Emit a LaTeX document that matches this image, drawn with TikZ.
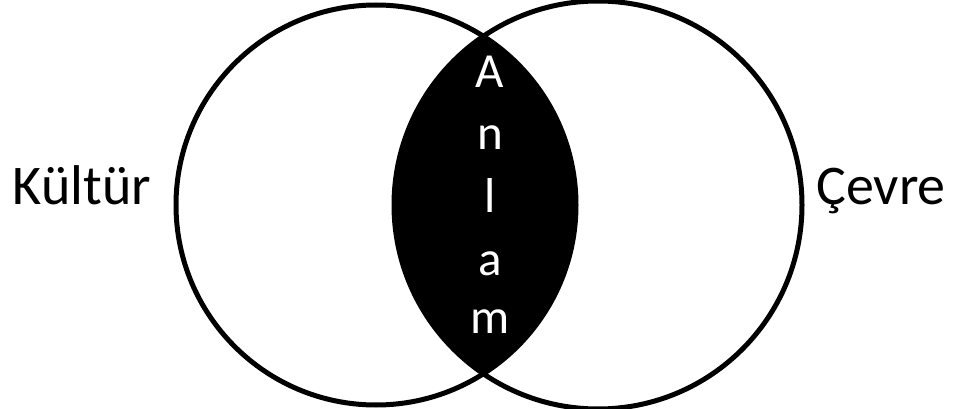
\documentclass[tikz,border=0pt]{standalone}
\usepackage{fontspec}
\setmainfont{Carlito}
\begin{document}
\begin{tikzpicture}[x=1pt,y=-1pt,
  ring/.style={draw=black,line width=5pt},
  side/.style={font=\fontsize{56}{60}\selectfont,anchor=base,inner sep=0pt},
  letter/.style={font=\fontsize{49}{52}\selectfont,text=white,anchor=base,inner sep=0pt}]
\useasboundingbox (0,0) rectangle (954,409);
\coordinate (cl) at (376,205);
\coordinate (cr) at (598,205);
\begin{scope}
  \clip (cl) circle (200);
  \fill[black] (cr) circle (204);
\end{scope}
\draw[ring] (cl) circle (200);
\draw[ring] (cr) circle (204);
\node[side] (kultur) at (82,205) {Kültür};
\node[side] (cevre) at (881,205) {Çevre};
\node[letter] (lA) at (490,88) {A};
\node[letter] (ln) at (490,150) {n};
\node[letter] (ll) at (490,212) {l};
\node[letter] (la) at (490,276) {a};
\node[letter] (lm) at (490,333) {m};
\end{tikzpicture}
\end{document}
